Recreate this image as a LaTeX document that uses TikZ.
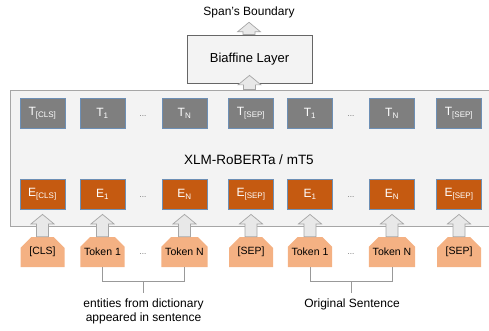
\documentclass[tikz,border=0pt]{standalone}
\usepackage{fontspec}
\setmainfont{Liberation Sans}
\usetikzlibrary{shapes.misc,calc}
\definecolor{lmfill}{HTML}{F3F3F3}
\definecolor{lmedge}{HTML}{A6A6A6}
\definecolor{biedge}{HTML}{666666}
\definecolor{tgrey}{HTML}{7F7F7F}
\definecolor{eorange}{HTML}{C55A11}
\definecolor{boxedge}{HTML}{6D8FB5}
\definecolor{tokfill}{HTML}{F4B183}
\definecolor{arrfill}{HTML}{E8E8E8}
\definecolor{arredge}{HTML}{A6A6A6}
\definecolor{brkcol}{HTML}{999999}
\newcommand\blockarr[3]{%
  \draw[arrstyle] let \p1=(#1), \p2=(#2) in
    (\x2,\y2+#3) -- (\x2+11.5pt,\y2+#3-9.5pt) -- (\x2+6pt,\y2+#3-9.5pt)
    -- (\x2+6pt,\y1) -- (\x2-6pt,\y1) -- (\x2-6pt,\y2+#3-9.5pt)
    -- (\x2-11.5pt,\y2+#3-9.5pt) -- cycle;}
\begin{document}
\begin{tikzpicture}[x=1pt,y=-1pt,
  lmbox/.style={draw=lmedge, fill=lmfill, line width=0.8pt, minimum width=485pt, minimum height=136pt, inner sep=0pt},
  bibox/.style={draw=biedge, fill=lmfill, line width=0.8pt, minimum width=125pt, minimum height=48pt, inner sep=0pt, font=\fontsize{13}{15}\selectfont},
  tbox/.style={draw=boxedge, fill=tgrey, line width=0.8pt, minimum width=45pt, minimum height=30pt, inner sep=0pt, text=white, font=\fontsize{12}{14}\selectfont},
  ebox/.style={tbox, fill=eorange},
  tokbox/.style={chamfered rectangle, chamfered rectangle corners={north west,north east}, chamfered rectangle xsep=6pt, chamfered rectangle ysep=6pt, fill=tokfill, minimum width=44pt, minimum height=30pt, inner sep=0pt, font=\fontsize{10.5}{12}\selectfont},
  dotlbl/.style={text=biedge, font=\fontsize{8}{10}\selectfont, inner sep=0pt},
  arrstyle/.style={draw=arredge, fill=arrfill, line width=0.7pt},
  brk/.style={draw=brkcol, line width=0.8pt},
  lbl/.style={inner sep=0pt, font=\fontsize{12}{13.5}\selectfont, align=center}]
\useasboundingbox (0,0) rectangle (489,331);
\clip (0,0) rectangle (489,331);

% language model box
\node[lmbox] (lm) at (252.5,158) {};
\node[inner sep=0pt, font=\fontsize{13.5}{15}\selectfont] (lmlbl) at (249,160) {XLM-RoBERTa / mT5};

% biaffine layer
\node[bibox] (bi) at (249.5,59) {Biaffine Layer};
\node[inner sep=0pt, font=\fontsize{12}{14}\selectfont] (span) at (249,12) {Span's Boundary};

% T row
\node[tbox] (t1) at (42.5,113) {T\textsubscript{[CLS]}};
\node[tbox] (t2) at (102.5,113) {T\textsubscript{1}};
\node[dotlbl] (td1) at (143,116) {...};
\node[tbox] (t3) at (184.5,113) {T\textsubscript{N}};
\node[tbox] (t4) at (251,113) {T\textsubscript{[SEP]}};
\node[tbox] (t5) at (310,113) {T\textsubscript{1}};
\node[dotlbl] (td2) at (351,116) {...};
\node[tbox] (t6) at (392,113) {T\textsubscript{N}};
\node[tbox] (t7) at (459,113) {T\textsubscript{[SEP]}};

% E row
\node[ebox] (e1) at (42.5,194) {E\textsubscript{[CLS]}};
\node[ebox] (e2) at (102.5,194) {E\textsubscript{1}};
\node[dotlbl] (ed1) at (143,197) {...};
\node[ebox] (e3) at (184.5,194) {E\textsubscript{N}};
\node[ebox] (e4) at (251,194) {E\textsubscript{[SEP]}};
\node[ebox] (e5) at (310,194) {E\textsubscript{1}};
\node[dotlbl] (ed2) at (351,197) {...};
\node[ebox] (e6) at (392,194) {E\textsubscript{N}};
\node[ebox] (e7) at (459,194) {E\textsubscript{[SEP]}};

% tokens
\node[tokbox] (k1) at (42.5,252) {[CLS]};
\node[tokbox] (k2) at (102.5,252) {Token 1};
\node[dotlbl] (kd1) at (143,254) {...};
\node[tokbox] (k3) at (184.5,252) {Token N};
\node[tokbox] (k4) at (251,252) {[SEP]};
\node[tokbox] (k5) at (310,252) {Token 1};
\node[dotlbl] (kd2) at (351,254) {...};
\node[tokbox] (k6) at (392,252) {Token N};
\node[tokbox] (k7) at (459,252) {[SEP]};

% block arrows
\foreach \i in {1,...,7} {\blockarr{k\i.north}{e\i.south}{-5pt}}
\blockarr{lm.north}{bi.south}{8pt}
\blockarr{bi.north}{span.south}{-4.5pt}

% brackets and labels
\node[lbl] (ent) at (143.5,311.5) {entities from dictionary\\appeared in sentence};
\node[lbl] (orig) at (352,304) {Original Sentence};
\draw[brk] (k2.south) -- ++(0,14) -| (k3.south);
\draw[brk] ($(k2.south)!0.5!(k3.south)+(0,14)$) -- ($(k2.south)!0.5!(k3.south)+(0,26)$);
\draw[brk] (k5.south) -- ++(0,14) -| (k6.south);
\draw[brk] ($(k5.south)!0.5!(k6.south)+(0,14)$) -- ($(k5.south)!0.5!(k6.south)+(0,26)$);
\end{tikzpicture}
\end{document}
